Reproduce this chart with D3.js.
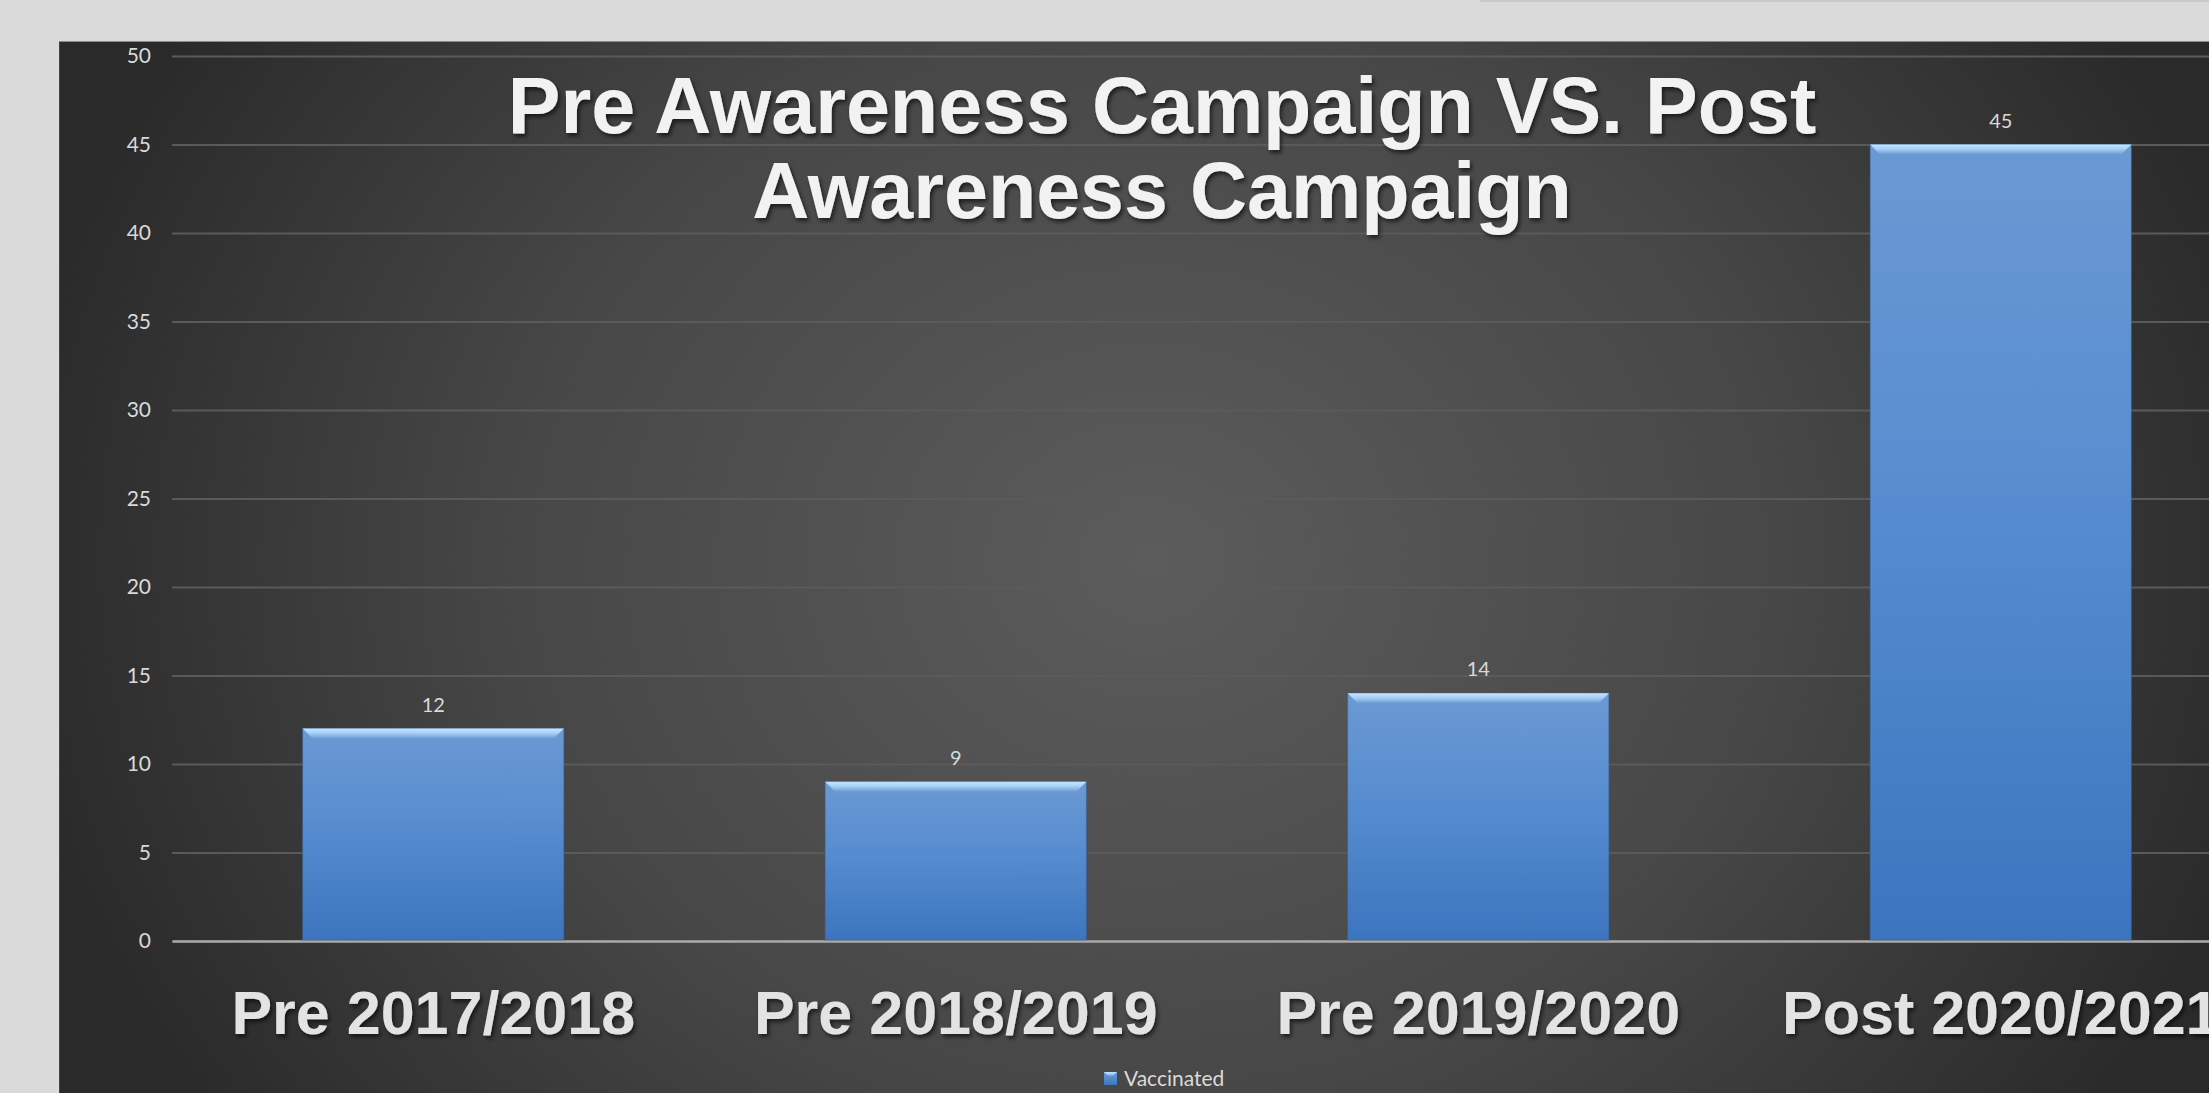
<!DOCTYPE html>
<html>
<head>
<meta charset="utf-8">
<script src="https://cdn.jsdelivr.net/npm/d3@7"></script>
<style>
    html, body { margin: 0; padding: 0; background: #dadada; overflow: hidden; }
    .axis text { font-family: Lato, "Open Sans", sans-serif; }
    .title-text, .x-axis-group text { font-family: "Liberation Sans", Arial, sans-serif; font-weight: bold; }
</style>
</head>
<body>
<div id="chart"></div>
<script>
// chart values
const categories = ['Pre 2017/2018', 'Pre 2018/2019', 'Pre 2019/2020', 'Post 2020/2021'];
const vaccinated = [12, 9, 14, 45];
const yTicks = [0, 5, 10, 15, 20, 25, 30, 35, 40, 45, 50];
const seriesName = 'Vaccinated';
const titleLines = ['Pre Awareness Campaign VS. Post', 'Awareness Campaign'];

const width = 2209;
const height = 1093;
// plot area (the chart is cropped on the right in the original)
const margin = {top: 56, left: 172, bottom: 941};
const plotRight = 2262;

let svg, xScale, yScale;

function buildSVG() {
    svg = d3.select('#chart')
      .append('svg')
        .attr('width', width)
        .attr('height', height);

    const defs = svg.append('defs');

    const bg = defs.append('radialGradient')
        .attr('id', 'bg-grad')
        .attr('gradientUnits', 'userSpaceOnUse')
        .attr('cx', 1150).attr('cy', 560).attr('r', 1150)
        .attr('gradientTransform', 'translate(1150,560) scale(1,0.85) translate(-1150,-560)');
    bg.append('stop').attr('offset', 0).attr('stop-color', '#5c5c5c');
    bg.append('stop').attr('offset', 0.55).attr('stop-color', '#474747');
    bg.append('stop').attr('offset', 1).attr('stop-color', '#2a2a2a');

    const bar = defs.append('linearGradient')
        .attr('id', 'bar-grad')
        .attr('x1', 0).attr('y1', 0).attr('x2', 0).attr('y2', 1);
    bar.append('stop').attr('offset', 0).attr('stop-color', '#6b99d3');
    bar.append('stop').attr('offset', 0.5).attr('stop-color', '#548bcf');
    bar.append('stop').attr('offset', 1).attr('stop-color', '#3c75be');

    const bevel = defs.append('linearGradient')
        .attr('id', 'bevel-grad')
        .attr('x1', 0).attr('y1', 0).attr('x2', 0).attr('y2', 1);
    bevel.append('stop').attr('offset', 0).attr('stop-color', '#c4e6ff');
    bevel.append('stop').attr('offset', 0.45).attr('stop-color', '#a6d0f7');
    bevel.append('stop').attr('offset', 1).attr('stop-color', '#6d9bd4');

    const shadow = defs.append('filter')
        .attr('id', 'text-shadow')
        .attr('x', '-10%').attr('y', '-20%').attr('width', '120%').attr('height', '150%');
    shadow.append('feDropShadow')
        .attr('dx', 2).attr('dy', 3).attr('stdDeviation', 2)
        .attr('flood-color', '#000').attr('flood-opacity', 0.6);

    // window strip + dark panel
    svg.append('rect')
        .attr('x', 1480).attr('y', 0).attr('width', width - 1480).attr('height', 2)
        .attr('fill', '#c9c9c9');
    svg.append('rect')
        .attr('x', 59).attr('y', 42)
        .attr('width', width - 59).attr('height', height - 42)
        .attr('fill', 'url(#bg-grad)');
    svg.append('line')
        .attr('x1', 59).attr('x2', width).attr('y1', 41.5).attr('y2', 41.5)
        .attr('stroke', '#8a8a8a').attr('stroke-width', 1);
    svg.append('line')
        .attr('x1', 59.5).attr('x2', 59.5).attr('y1', 42).attr('y2', height)
        .attr('stroke', '#444').attr('stroke-width', 1);
}

function buildScales() {
    xScale = d3.scaleBand()
        .domain(categories)
        .range([margin.left, plotRight])
        .paddingInner(0.5)
        .paddingOuter(0.25);

    yScale = d3.scaleLinear()
        .domain([0, d3.max(yTicks)])
        .range([margin.bottom, margin.top]);
}

function drawAxes() {
    const yAxis = d3.axisLeft(yScale)
        .tickValues(yTicks)
        .tickSize(-(width - margin.left))
        .tickPadding(21);

    const yg = svg.append('g')
        .attr('class', 'y-axis-group axis')
        .attr('transform', `translate(${margin.left},0)`)
        .call(yAxis);
    yg.select('.domain').remove();
    yg.selectAll('.tick line')
        .attr('stroke', '#5a5a5a')
        .attr('stroke-width', 2);
    yg.selectAll('.tick text')
        .attr('fill', '#d9d9d9')
        .attr('font-size', 21);

    const xAxis = d3.axisBottom(xScale)
        .tickSize(0)
        .tickSizeOuter(0)
        .tickPadding(50);

    const xg = svg.append('g')
        .attr('class', 'x-axis-group axis')
        .attr('transform', `translate(0,${yScale(0)})`)
        .call(xAxis);
    xg.select('.domain')
        .attr('stroke', '#a9a9a9')
        .attr('stroke-width', 2.5);
    xg.selectAll('.tick text')
        .attr('fill', '#e3e3e3')
        .attr('font-size', 61)
        .attr('filter', 'url(#text-shadow)');
}

function drawBars() {
    const data = categories.map((c, i) => ({category: c, value: vaccinated[i]}));
    const bw = xScale.bandwidth();
    const bv = 10;

    const groups = svg.append('g')
        .attr('class', 'chart-group')
        .selectAll('.bar')
        .data(data)
        .enter()
      .append('g')
        .attr('class', 'bar');

    groups.append('rect')
        .attr('x', d => xScale(d.category))
        .attr('y', d => yScale(d.value))
        .attr('width', bw)
        .attr('height', d => yScale(0) - yScale(d.value) - 1)
        .attr('fill', 'url(#bar-grad)')
        .attr('stroke', '#2f5f9c')
        .attr('stroke-opacity', 0.5)
        .attr('stroke-width', 1);

    // top bevel
    groups.append('polygon')
        .attr('points', d => {
            const x0 = xScale(d.category), y0 = yScale(d.value);
            return [[x0, y0], [x0 + bw, y0], [x0 + bw - bv, y0 + bv], [x0 + bv, y0 + bv]].join(' ');
        })
        .attr('fill', 'url(#bevel-grad)');

    groups.append('text')
        .attr('x', d => xScale(d.category) + bw / 2)
        .attr('y', d => yScale(d.value) - 17)
        .attr('text-anchor', 'middle')
        .attr('font-family', 'Lato, "Open Sans", sans-serif')
        .attr('font-size', 20)
        .attr('fill', '#d9d9d9')
        .text(d => d.value);
}

function drawTitle() {
    svg.append('text')
        .attr('class', 'title-text')
        .attr('x', 1162)
        .attr('y', 133)
        .attr('text-anchor', 'middle')
        .attr('font-size', 79)
        .attr('fill', '#f2f2f2')
        .attr('filter', 'url(#text-shadow)')
        .selectAll('tspan')
        .data(titleLines)
        .enter()
      .append('tspan')
        .attr('x', 1162)
        .attr('dy', (d, i) => i ? 85 : 0)
        .text(d => d);
}

function drawLegend() {
    const lg = svg.append('g').attr('class', 'legend');
    lg.append('rect')
        .attr('x', 1104).attr('y', 1072)
        .attr('width', 13).attr('height', 13)
        .attr('fill', 'url(#bar-grad)');
    lg.append('polygon')
        .attr('points', '1104,1072 1117,1072 1113,1076 1108,1076')
        .attr('fill', 'url(#bevel-grad)');
    lg.append('text')
        .attr('x', 1124).attr('y', 1086)
        .attr('font-family', 'Lato, "Open Sans", sans-serif')
        .attr('font-size', 21)
        .attr('fill', '#d9d9d9')
        .text(seriesName);
}

buildSVG();
buildScales();
drawAxes();
drawBars();
drawTitle();
drawLegend();
</script>
</body>
</html>
